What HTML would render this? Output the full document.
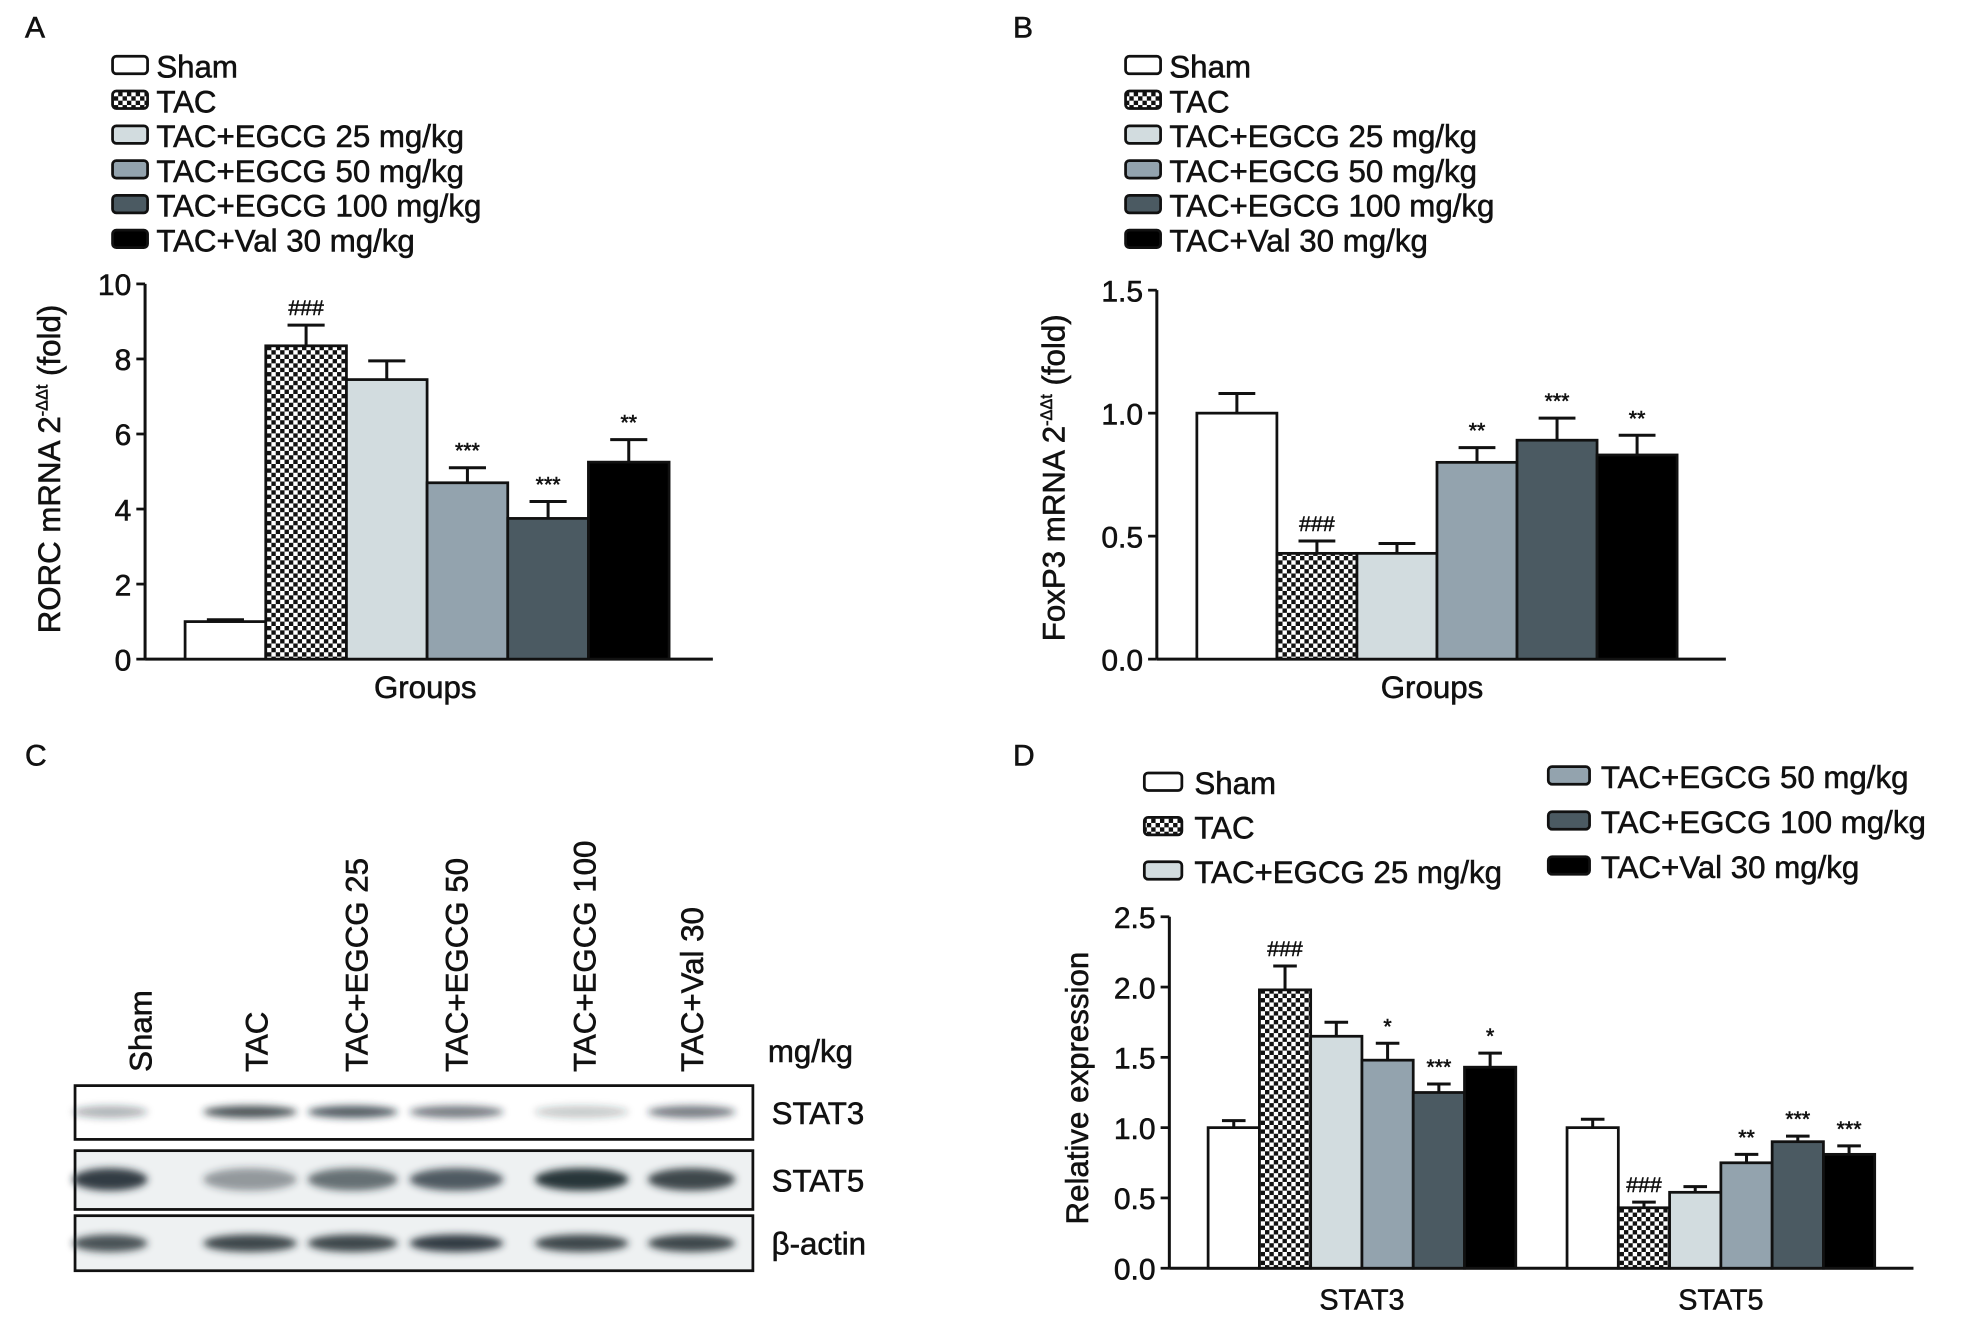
<!DOCTYPE html>
<html><head><meta charset="utf-8"><style>
html,body{margin:0;padding:0;background:#fff}
svg{display:block;font-family:"Liberation Sans",Arial,sans-serif}
text{stroke:#111;stroke-width:0.45px}
</style></head><body>
<svg id="fig" width="1961" height="1322" viewBox="0 0 1568 1057" preserveAspectRatio="none" xmlns="http://www.w3.org/2000/svg">
<defs>
<pattern id="checker" width="7" height="7" patternUnits="userSpaceOnUse">
<rect width="7" height="7" fill="#fff"/><rect width="3.5" height="3.5" fill="#111"/><rect x="3.5" y="3.5" width="3.5" height="3.5" fill="#111"/>
</pattern>
<filter id="blur" x="-20%" y="-100%" width="140%" height="300%"><feGaussianBlur stdDeviation="3"/></filter>
</defs>
<g id="root"></g>
</svg>
<script>
const groupNames = ["Sham","TAC","TAC+EGCG 25 mg/kg","TAC+EGCG 50 mg/kg","TAC+EGCG 100 mg/kg","TAC+Val 30 mg/kg"];
const rorcValues = [1.0, 8.35, 7.45, 4.7, 3.75, 5.25];
const rorcErrors = [0.05, 0.55, 0.5, 0.4, 0.45, 0.6];
const rorcMarks = ["", "###", "", "***", "***", "**"];
const rorcTicks = [0,2,4,6,8,10];
const foxValues = [1.0, 0.43, 0.43, 0.8, 0.89, 0.83];
const foxErrors = [0.08, 0.05, 0.04, 0.06, 0.09, 0.08];
const foxMarks = ["", "###", "", "**", "***", "**"];
const foxTicks = ["0.0","0.5","1.0","1.5"];
const statCategories = ["STAT3","STAT5"];
const stat3Values = [1.0, 1.98, 1.65, 1.48, 1.25, 1.43];
const stat3Errors = [0.05, 0.17, 0.1, 0.12, 0.06, 0.1];
const stat3Marks = ["", "###", "", "*", "***", "*"];
const stat5Values = [1.0, 0.43, 0.54, 0.75, 0.9, 0.81];
const stat5Errors = [0.06, 0.04, 0.04, 0.06, 0.04, 0.06];
const stat5Marks = ["", "###", "", "**", "***", "***"];
const statTicks = ["0.0","0.5","1.0","1.5","2.0","2.5"];
const blotLanes = ["Sham","TAC","TAC+EGCG 25","TAC+EGCG 50","TAC+EGCG 100","TAC+Val 30"];
const stat3Band = [0.35, 0.8, 0.75, 0.6, 0.25, 0.6];
const stat5Band = [0.9, 0.45, 0.65, 0.75, 0.95, 0.85];
const actinBand = [0.8, 0.85, 0.85, 0.9, 0.85, 0.85];

const fills = ["#ffffff","url(#checker)","#d2dcdf","#93a3ae","#4b5a62","#000000"];
const NS = "http://www.w3.org/2000/svg";
const root = document.getElementById("root");
function el(tag, attrs, parent, text){
  const e = document.createElementNS(NS, tag);
  for (const k in attrs) e.setAttribute(k, attrs[k]);
  if (text !== undefined) e.textContent = text;
  (parent||root).appendChild(e);
  return e;
}
function txt(x,y,s,size,anchor,parent,extra){
  const a = Object.assign({x:x,y:y,"font-size":size,"text-anchor":anchor||"start",fill:"#111"}, extra||{});
  return el("text",a,parent,s);
}
function legend(x,y,step,names,parent){
  names.forEach((n,i)=>{
    const g = el("g",{},parent);
    
    
    el("rect",{x:x,y:y+i*step-8,width:28,height:14,rx:3,fill:fills[i],stroke:"#111","stroke-width":2.2},g);
    txt(x+35,y+i*step+9,n,25,"start",g);
  });
}
function barChart(opt){
  const g = el("g",{});
  
  
  const yS = v => opt.y0 - (v - 0)/(opt.ymax) * (opt.y0 - opt.ytop);
  el("line",{x1:opt.ax,y1:opt.ytop,x2:opt.ax,y2:opt.y0,stroke:"#111","stroke-width":2.4},g);
  el("line",{x1:opt.ax,y1:opt.y0,x2:opt.xend,y2:opt.y0,stroke:"#111","stroke-width":2.4},g);
  opt.ticks.forEach(t=>{
    const v = parseFloat(t), y = yS(v);
    el("line",{x1:opt.ax-7,y1:y,x2:opt.ax,y2:y,stroke:"#111","stroke-width":2.2},g);
    const tl = txt(opt.ax-11,y+9,String(t),24,"end",g);
    
    
  });
  opt.series.forEach(s=>{
    s.values.forEach((v,i)=>{
      const x = s.x0 + i*opt.bw, yt = yS(v), ye = yS(v + s.errors[i]);
      const cx = x + opt.bw/2;
      const eb = el("path",{d:`M${cx} ${yt}V${ye}M${cx-opt.bw*0.23} ${ye}H${cx+opt.bw*0.23}`,stroke:"#111","stroke-width":2.4,fill:"none"},g);
      
      
      const r = el("rect",{x:x,y:yt,width:opt.bw,height:opt.y0-yt,fill:fills[i],stroke:"#111","stroke-width":2.2},g);
      
      
      if (s.marks[i]) {
        const m = txt(cx, ye-8, s.marks[i], 17, "middle", g, {"stroke-width":0.2});
        
        
      }
    });
  });
  return g;
}
[["A",20,30],["B",810,30],["C",20,612],["D",810,612]].forEach(p=>{
  const t = txt(p[1],p[2],p[0],24,"start");
  
  
});
legend(90,53,27.8,groupNames);
barChart({name:"chart-a",ax:116,y0:527,ytop:227,ymax:10,xend:570,bw:64.5,ticks:rorcTicks,
  series:[{key:"rorc",x0:148,values:rorcValues,errors:rorcErrors,marks:rorcMarks}]});
let t = txt(0,0,"",25,"middle",root,{transform:"translate(48,375) rotate(-90)"});
 
t.innerHTML = 'RORC mRNA 2<tspan dy="-10" font-size="13">-ΔΔt</tspan><tspan dy="10"> (fold)</tspan>';
t = txt(340,558,"Groups",25,"middle");  
legend(900,53,27.8,groupNames);
barChart({name:"chart-b",ax:925,y0:527,ytop:232,ymax:1.5,xend:1380,bw:64,ticks:foxTicks,
  series:[{key:"foxp3",x0:957,values:foxValues,errors:foxErrors,marks:foxMarks}]});
t = txt(0,0,"",25,"middle",root,{transform:"translate(851,382) rotate(-90)"});
 
t.innerHTML = 'FoxP3 mRNA 2<tspan dy="-10" font-size="13">-ΔΔt</tspan><tspan dy="10"> (fold)</tspan>';
t = txt(1145,558,"Groups",25,"middle");  
(function(){
  const g1 = el("g",{});
   
  [0,1,2].forEach(i=>{
    el("rect",{x:915,y:618+i*35.5,width:30,height:14,rx:3,fill:fills[i],stroke:"#111","stroke-width":2.2},g1);
    txt(955,635+i*35.5,groupNames[i],25,"start",g1);
  });
  [3,4,5].forEach((i,j)=>{
    el("rect",{x:1238,y:613+j*36,width:33,height:14,rx:3,fill:fills[i],stroke:"#111","stroke-width":2.2},g1);
    txt(1280,630+j*36,groupNames[i],25,"start",g1);
  });
})();
barChart({name:"chart-d",ax:935,y0:1014,ytop:733,ymax:2.5,xend:1530,bw:41,ticks:statTicks,
  series:[{key:"stat3",x0:966,values:stat3Values,errors:stat3Errors,marks:stat3Marks},
          {key:"stat5",x0:1253,values:stat5Values,errors:stat5Errors,marks:stat5Marks}]});
statCategories.forEach((c,i)=>{
  const x = [966,1253][i] + 3*41;
  const l = txt(x,1047,c,23,"middle");
   
});
t = txt(0,0,"Relative expression",25,"middle",root,{transform:"translate(870,870) rotate(-90)"});
 
const laneX = [112,205,285,365,467,553];
blotLanes.forEach((n,i)=>{
  const l = txt(0,0,n,25,"start",root,{transform:`translate(${laneX[i]+9},857) rotate(-90)`});
   
});
t = txt(614,849,"mg/kg",25,"start");  
const rows = [{name:"STAT3",y:868,h:43,band:stat3Band,by:889,bh:5},{name:"STAT5",y:920,h:47,band:stat5Band,by:943,bh:9},{name:"β-actin",y:972,h:44,band:actinBand,by:994,bh:7}];
const laneW = [60,75,72,75,75,70];
const laneC = [88,200,282,365,465,553];
rows.forEach(r=>{
  const g = el("g",{});
  
  
  el("rect",{x:60,y:r.y,width:542,height:r.h,fill:r.name==="STAT3"?"#fff":"#eef1f2",stroke:"#111","stroke-width":2.2},g);
  r.band.forEach((v,i)=>{
    const b = el("ellipse",{cx:laneC[i],cy:r.by,rx:laneW[i]/2,ry:r.bh,fill:"#1e2a30","fill-opacity":v,filter:"url(#blur)"},g);
     
  });
  txt(617,r.y+r.h/2+9,r.name,25,"start",g);
});
</script>
</body></html>
